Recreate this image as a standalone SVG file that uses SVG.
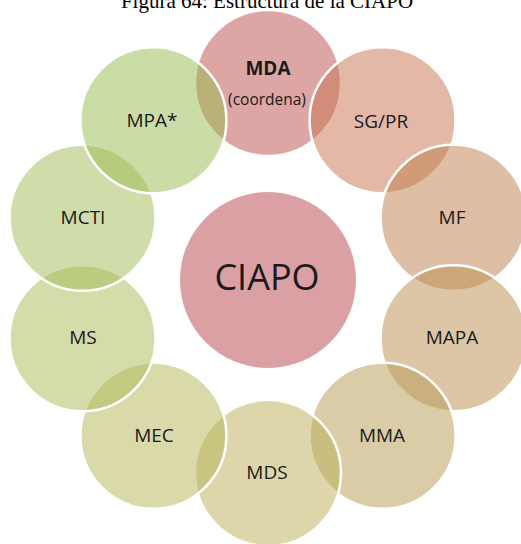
<svg xmlns="http://www.w3.org/2000/svg" width="521" height="544" viewBox="0 0 521 544">
<style>
.ring{stroke:#ffffff;stroke-width:2.5;fill-opacity:0.5}
.lbl{font-family:"Open Sans","Lato","Liberation Sans",sans-serif;font-size:19px;fill:#1a1a1a;text-anchor:middle}
.title{font-family:"Liberation Serif","Times New Roman",serif;font-size:21px;fill:#000;text-anchor:middle}
</style>
<rect width="521" height="544" fill="#ffffff"/>
<g id="title"><text class="title" x="267" y="8">Figura 64: Estructura de la CIAPO</text></g>
<g id="connectors"></g>
<g id="node-ciapo">
<circle cx="268" cy="280" r="88" fill="#dba0a4"/>
<text class="lbl" x="267" y="290" style="font-size:36px">CIAPO</text>
</g>
<g id="node-mda">
<circle class="ring" cx="268" cy="83" r="73" fill="#bb4d4b"/>
<text class="lbl" x="268" y="75" style="font-weight:bold">MDA</text>
<text class="lbl" x="267" y="105" style="font-size:15.5px">(coordena)</text>
</g>
<g id="node-sgpr">
<circle class="ring" cx="382.6" cy="120.2" r="73" fill="#c7714f"/>
<text class="lbl" x="381" y="128">SG/PR</text>
</g>
<g id="node-mf">
<circle class="ring" cx="453.5" cy="217.7" r="73" fill="#bf7d4d"/>
<text class="lbl" x="452" y="224">MF</text>
</g>
<g id="node-mapa">
<circle class="ring" cx="453.5" cy="338.3" r="73" fill="#bb8d4d"/>
<text class="lbl" x="452" y="344">MAPA</text>
</g>
<g id="node-mma">
<circle class="ring" cx="382.6" cy="435.8" r="73" fill="#b79951"/>
<text class="lbl" x="382" y="442">MMA</text>
</g>
<g id="node-mds">
<circle class="ring" cx="268" cy="473" r="73" fill="#b9ad55"/>
<text class="lbl" x="267" y="479">MDS</text>
</g>
<g id="node-mec">
<circle class="ring" cx="153.4" cy="435.8" r="73" fill="#b3b355"/>
<text class="lbl" x="154" y="442">MEC</text>
</g>
<g id="node-ms">
<circle class="ring" cx="82.5" cy="338.3" r="73" fill="#abb955"/>
<text class="lbl" x="83" y="344">MS</text>
</g>
<g id="node-mcti">
<circle class="ring" cx="82.5" cy="217.7" r="73" fill="#a1bb55"/>
<text class="lbl" x="83" y="224">MCTI</text>
</g>
<g id="node-mpa">
<circle class="ring" cx="153.4" cy="120.2" r="73" fill="#97bb4d"/>
<text class="lbl" x="152" y="127">MPA*</text>
</g>
</svg>
